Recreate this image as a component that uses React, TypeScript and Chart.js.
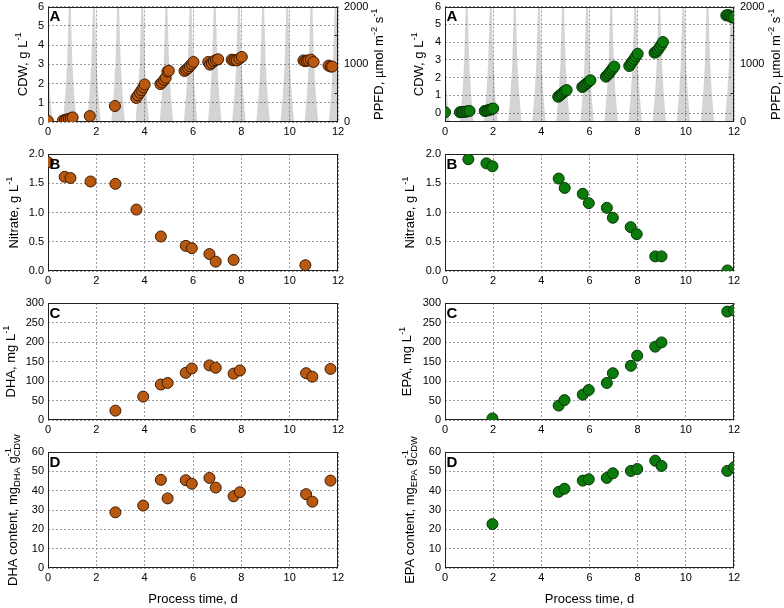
import React, { useEffect, useRef } from 'react';
import { Chart, registerables } from 'chart.js';

Chart.register(...registerables);

const W = 784;
const H = 608;
const FONT = 'Arial, "Liberation Sans", Helvetica, sans-serif';

// ---------------- Tick values ----------------
const dayTicks = [0, 2, 4, 6, 8, 10, 12];
const cdwTicks = [0, 1, 2, 3, 4, 5, 6];
const nitrateTicks = [0, 0.5, 1.0, 1.5, 2.0];
const titerTicks = [0, 50, 100, 150, 200, 250, 300];
const contentTicks = [0, 10, 20, 30, 40, 50, 60];
const ppfdTicks = [0, 1000, 2000];

// ---------------- Data: left column (DHA strain) ----------------
const dhaCdwDays = [0, 0.62, 0.7, 0.78, 0.86, 0.94, 1.02, 1.73, 2.77, 3.65, 3.72, 3.8, 3.87, 3.94, 4.0, 4.65, 4.72, 4.8, 4.87, 4.94, 5.0, 5.65, 5.72, 5.8, 5.87, 5.95, 6.02, 6.63, 6.7, 6.78, 6.86, 6.95, 7.04, 7.6, 7.67, 7.74, 7.81, 7.92, 8.02, 10.57, 10.64, 10.71, 10.78, 10.88, 10.99, 11.61, 11.7, 11.76];
const dhaCdw = [0.05, 0.08, 0.1, 0.13, 0.16, 0.19, 0.24, 0.31, 0.83, 1.25, 1.38, 1.52, 1.65, 1.8, 1.95, 1.97, 2.05, 2.18, 2.3, 2.62, 2.66, 2.65, 2.72, 2.8, 2.9, 3.0, 3.12, 3.12, 2.98, 3.06, 3.16, 3.22, 3.26, 3.24, 3.2, 3.22, 3.2, 3.29, 3.38, 3.2, 3.16, 3.18, 3.2, 3.24, 3.12, 2.93, 2.88, 2.88];

const dhaNitrateDays = [0, 0.69, 0.93, 1.76, 2.79, 3.66, 4.67, 5.7, 5.95, 6.68, 6.94, 7.68, 10.65];
const dhaNitrate = [1.86, 1.61, 1.59, 1.53, 1.49, 1.05, 0.59, 0.43, 0.39, 0.29, 0.16, 0.19, 0.1];

const dhaDays = [2.79, 3.94, 4.67, 4.95, 5.7, 5.95, 6.68, 6.94, 7.68, 7.94, 10.68, 10.94, 11.69];
const dhaTiter = [24, 60, 91, 95, 121, 132, 140, 134, 119, 127, 120, 111, 131];
const dhaContent = [28.8, 32.3, 45.6, 36.0, 45.4, 43.6, 46.6, 41.6, 37.1, 39.2, 38.2, 34.3, 45.2];

// ---------------- Data: right column (EPA strain) ----------------
const epaCdwDays = [0, 0.62, 0.7, 0.78, 0.86, 0.94, 1.02, 1.65, 1.72, 1.79, 1.86, 1.93, 2.0, 4.7, 4.77, 4.84, 4.91, 4.98, 5.05, 5.7, 5.77, 5.84, 5.91, 5.98, 6.04, 6.68, 6.75, 6.82, 6.89, 6.96, 7.03, 7.65, 7.72, 7.79, 7.86, 7.93, 8.0, 8.7, 8.77, 8.84, 8.91, 8.98, 9.05, 11.68, 11.76, 11.84, 11.92, 12.0];
const epaCdw = [0.05, 0.05, 0.06, 0.07, 0.08, 0.1, 0.12, 0.12, 0.14, 0.16, 0.19, 0.22, 0.26, 0.92, 1.0, 1.08, 1.16, 1.24, 1.3, 1.47, 1.54, 1.62, 1.7, 1.78, 1.85, 2.05, 2.14, 2.25, 2.38, 2.5, 2.62, 2.65, 2.78, 2.92, 3.05, 3.2, 3.34, 3.4, 3.45, 3.56, 3.7, 3.84, 4.0, 5.5, 5.52, 5.45, 5.38, 5.4];

const epaNitrateDays = [0.97, 1.72, 1.97, 4.72, 4.97, 5.72, 5.97, 6.72, 6.97, 7.71, 7.96, 8.73, 8.99, 11.73];
const epaNitrate = [1.91, 1.84, 1.79, 1.58, 1.42, 1.32, 1.16, 1.08, 0.91, 0.75, 0.63, 0.25, 0.25, 0.01];

const epaDays = [1.97, 4.72, 4.96, 5.72, 5.97, 6.72, 6.97, 7.72, 7.98, 8.73, 8.99, 11.72, 12.0];
const epaTiter = [4, 37, 51, 65, 77, 95, 120, 139, 165, 188, 199, 278, 281];
const epaContent = [22.7, 39.4, 41.0, 45.2, 45.9, 46.6, 49.0, 50.2, 51.2, 55.5, 52.8, 50.2, 52.1];

// ---------------- Light (PPFD) daily cycle ----------------
const lightPeakDays = [-0.1, 0.9, 1.9, 2.9, 3.9, 4.9, 5.9, 6.9, 7.9, 8.9, 9.9, 10.9, 11.9];
const ppfdShapeOffsets = [-0.28, -0.18, -0.11, -0.04, 0.04, 0.11, 0.18, 0.28];
const ppfdShapeLevels = [0, 500, 1000, 2000, 2000, 1000, 500, 0];

const lightPoints: { x: number; y: number }[] = [];
lightPeakDays.forEach((d) => {
  ppfdShapeOffsets.forEach((o, i) => lightPoints.push({ x: d + o, y: ppfdShapeLevels[i] }));
});

// ---------------- Styling / layout ----------------
const BROWN = '#b9590f';
const BROWN_EDGE = '#3a1a04';
const GREEN = '#0a7a0a';
const GREEN_EDGE = '#053505';

const colL = [48, 445];
const colR = [338, 734];
const rowT = [6, 154, 303, 452];
const rowB = [122, 271, 420, 568];
const Y_AXIS_W = 44;
const Y2_AXIS_W = 40;
const X_AXIS_H = 20;

type Seg = { t: string; k?: 'sup' | 'sub'; s?: string };

interface Panel {
  col: number;
  row: number;
  letter: string;
  days: number[];
  vals: number[];
  color: string;
  edge: string;
  yMin: number;
  yMax: number;
  yTicks: number[];
  decimals: number;
  title: Seg[];
  titleX: number;
  light: boolean;
  ppfdX?: number;
}

const panels: Panel[] = [
  { col: 0, row: 0, letter: 'A', days: dhaCdwDays, vals: dhaCdw, color: BROWN, edge: BROWN_EDGE, yMin: 0, yMax: 6, yTicks: cdwTicks, decimals: 0, title: [{ t: 'CDW, g L' }, { t: '-1', k: 'sup' }], titleX: 22, light: true, ppfdX: 378 },
  { col: 0, row: 1, letter: 'B', days: dhaNitrateDays, vals: dhaNitrate, color: BROWN, edge: BROWN_EDGE, yMin: 0, yMax: 2, yTicks: nitrateTicks, decimals: 1, title: [{ t: 'Nitrate, g L' }, { t: '-1', k: 'sup' }], titleX: 13, light: false },
  { col: 0, row: 2, letter: 'C', days: dhaDays, vals: dhaTiter, color: BROWN, edge: BROWN_EDGE, yMin: 0, yMax: 300, yTicks: titerTicks, decimals: 0, title: [{ t: 'DHA, mg L' }, { t: '-1', k: 'sup' }], titleX: 10, light: false },
  { col: 0, row: 3, letter: 'D', days: dhaDays, vals: dhaContent, color: BROWN, edge: BROWN_EDGE, yMin: 0, yMax: 60, yTicks: contentTicks, decimals: 0, title: [{ t: 'DHA content, mg' }, { t: 'DHA', k: 'sub' }, { t: ' g' }, { t: 'CDW', k: 'sub', s: '-1' }], titleX: 12, light: false },
  { col: 1, row: 0, letter: 'A', days: epaCdwDays, vals: epaCdw, color: GREEN, edge: GREEN_EDGE, yMin: -0.5, yMax: 6, yTicks: cdwTicks, decimals: 0, title: [{ t: 'CDW, g L' }, { t: '-1', k: 'sup' }], titleX: 418, light: true, ppfdX: 775 },
  { col: 1, row: 1, letter: 'B', days: epaNitrateDays, vals: epaNitrate, color: GREEN, edge: GREEN_EDGE, yMin: 0, yMax: 2, yTicks: nitrateTicks, decimals: 1, title: [{ t: 'Nitrate, g L' }, { t: '-1', k: 'sup' }], titleX: 409, light: false },
  { col: 1, row: 2, letter: 'C', days: epaDays, vals: epaTiter, color: GREEN, edge: GREEN_EDGE, yMin: 0, yMax: 300, yTicks: titerTicks, decimals: 0, title: [{ t: 'EPA, mg L' }, { t: '-1', k: 'sup' }], titleX: 406, light: false },
  { col: 1, row: 3, letter: 'D', days: epaDays, vals: epaContent, color: GREEN, edge: GREEN_EDGE, yMin: 0, yMax: 60, yTicks: contentTicks, decimals: 0, title: [{ t: 'EPA content, mg' }, { t: 'EPA', k: 'sub' }, { t: ' g' }, { t: 'CDW', k: 'sub', s: '-1' }], titleX: 409, light: false },
];

function drawRich(ctx: CanvasRenderingContext2D, segs: Seg[], cx: number, cy: number, size: number, rotate: boolean) {
  const small = size * 0.72;
  const widths: number[] = [];
  let total = 0;
  ctx.save();
  for (const sg of segs) {
    let w: number;
    if (!sg.k) {
      ctx.font = `${size}px ${FONT}`;
      w = ctx.measureText(sg.t).width;
    } else {
      ctx.font = `${small}px ${FONT}`;
      w = ctx.measureText(sg.t).width;
      if (sg.s) w = Math.max(w, ctx.measureText(sg.s).width);
    }
    widths.push(w);
    total += w;
  }
  ctx.translate(cx, cy);
  if (rotate) ctx.rotate(-Math.PI / 2);
  ctx.textAlign = 'left';
  ctx.textBaseline = 'alphabetic';
  ctx.fillStyle = '#000';
  const base = size * 0.36;
  let x = -total / 2;
  segs.forEach((sg, i) => {
    if (!sg.k) {
      ctx.font = `${size}px ${FONT}`;
      ctx.fillText(sg.t, x, base);
    } else if (sg.k === 'sup') {
      ctx.font = `${small}px ${FONT}`;
      ctx.fillText(sg.t, x, base - size * 0.42);
    } else {
      ctx.font = `${small}px ${FONT}`;
      ctx.fillText(sg.t, x, base + size * 0.22);
      if (sg.s) ctx.fillText(sg.s, x, base - size * 0.45);
    }
    x += widths[i];
  });
  ctx.restore();
}

const fixedFit = (size: number) => (s: any) => {
  if (s.isHorizontal()) s.height = size;
  else s.width = size;
  s.paddingTop = 0;
  s.paddingBottom = 0;
  s.paddingLeft = 0;
  s.paddingRight = 0;
};

const setTicks = (vals: number[]) => (s: any) => {
  s.ticks = vals.map((v) => ({ value: v }));
};

function buildConfig(p: Panel): any {
  const L = colL[p.col];
  const R = colR[p.col];
  const T = rowT[p.row];
  const B = rowB[p.row];
  const tickFont = { family: FONT, size: 11 };
  const gridOpts = { color: '#9c9c9c', lineWidth: 1, drawTicks: false };
  const datasets: any[] = [
    {
      type: 'scatter',
      data: p.days.map((d, i) => ({ x: d, y: p.vals[i] })),
      backgroundColor: p.color,
      borderColor: p.edge,
      borderWidth: 1,
      pointRadius: 5.5,
      pointHoverRadius: 5.5,
      xAxisID: 'x',
      yAxisID: 'y',
      order: 0,
    },
  ];
  const scales: any = {
    x: {
      type: 'linear',
      position: 'bottom',
      min: 0,
      max: 12,
      ticks: { padding: 3, font: tickFont, color: '#000', maxRotation: 0, minRotation: 0, autoSkip: false, callback: (v: any) => String(v) },
      grid: gridOpts,
      border: { display: false, dash: [2, 2] },
      afterBuildTicks: setTicks(dayTicks),
      afterFit: fixedFit(X_AXIS_H),
    },
    y: {
      type: 'linear',
      position: 'left',
      min: p.yMin,
      max: p.yMax,
      ticks: {
        padding: 4,
        font: tickFont,
        color: '#000',
        autoSkip: false,
        callback: (v: any) => Number(v).toFixed(p.decimals),
      },
      grid: gridOpts,
      border: { display: false, dash: [2, 2] },
      afterBuildTicks: setTicks(p.yTicks),
      afterFit: fixedFit(Y_AXIS_W),
    },
  };
  let rightPad = W - R;
  if (p.light) {
    datasets.push({
      type: 'line',
      data: lightPoints,
      xAxisID: 'x',
      yAxisID: 'y2',
      fill: 'origin',
      backgroundColor: 'rgba(0,0,0,0.17)',
      borderColor: 'rgba(0,0,0,0)',
      borderWidth: 0,
      pointRadius: 0,
      tension: 0,
      order: 1,
    });
    scales.y2 = {
      type: 'linear',
      position: 'right',
      min: 0,
      max: 2000,
      ticks: { padding: 6, font: tickFont, color: '#000', autoSkip: false, callback: (v: any) => String(v) },
      grid: { display: false, drawTicks: false },
      border: { display: false },
      afterBuildTicks: setTicks(ppfdTicks),
      afterFit: fixedFit(Y2_AXIS_W),
    };
    rightPad = W - R - Y2_AXIS_W;
  }
  const decor = {
    id: 'decor' + p.col + p.row,
    beforeDatasetsDraw(chart: any) {
      const ctx = chart.ctx as CanvasRenderingContext2D;
      const a = chart.chartArea;
      ctx.save();
      ctx.strokeStyle = '#222';
      ctx.lineWidth = 1;
      const l = Math.round(a.left) + 0.5;
      const t = Math.round(a.top) + 0.5;
      const r = Math.round(a.right) - 0.5;
      const b = Math.round(a.bottom) - 0.5;
      ctx.strokeRect(l, t, r - l, b - t);
      if (p.light) {
        // small inward minor ticks on PPFD axis
        const y2 = chart.scales.y2;
        ctx.beginPath();
        [500, 1500].forEach((v) => {
          const yy = Math.round(y2.getPixelForValue(v)) + 0.5;
          ctx.moveTo(r, yy);
          ctx.lineTo(r - 3, yy);
        });
        ctx.stroke();
      }
      ctx.restore();
    },
    afterDraw(chart: any) {
      const ctx = chart.ctx as CanvasRenderingContext2D;
      const a = chart.chartArea;
      ctx.save();
      ctx.fillStyle = '#000';
      ctx.font = `bold 15px ${FONT}`;
      ctx.textAlign = 'left';
      ctx.textBaseline = 'alphabetic';
      ctx.fillText(p.letter, a.left + 1.5, a.top + 14.5);
      ctx.restore();
      drawRich(ctx, p.title, p.titleX, (a.top + a.bottom) / 2, 13, true);
      if (p.light && p.ppfdX) {
        drawRich(ctx, [{ t: 'PPFD, \u00b5mol m' }, { t: '-2', k: 'sup' }, { t: ' s' }, { t: '-1', k: 'sup' }], p.ppfdX, (a.top + a.bottom) / 2, 13, true);
      }
      if (p.row === 3) {
        drawRich(ctx, [{ t: 'Process time, d' }], (a.left + a.right) / 2, 598, 13, false);
      }
    },
  };
  return {
    type: 'scatter',
    data: { datasets },
    options: {
      animation: false,
      responsive: false,
      devicePixelRatio: 1,
      events: [],
      layout: { padding: { left: L - Y_AXIS_W, right: rightPad, top: T, bottom: H - B - X_AXIS_H } },
      plugins: { legend: { display: false }, tooltip: { enabled: false }, title: { display: false } },
      scales,
    },
    plugins: [decor],
  };
}

function PanelChart({ p }: { p: Panel }) {
  const ref = useRef<HTMLCanvasElement>(null);
  useEffect(() => {
    if (!ref.current) return;
    const chart = new Chart(ref.current, buildConfig(p));
    return () => chart.destroy();
  }, [p]);
  return (
    <canvas
      ref={ref}
      width={W}
      height={H}
      style={{ position: 'absolute', left: 0, top: 0, width: W, height: H }}
    />
  );
}

export default function App() {
  return (
    <div style={{ position: 'absolute', left: 0, top: 0, width: W, height: H, background: '#fff', overflow: 'hidden' }}>
      {panels.map((p, i) => (
        <PanelChart key={i} p={p} />
      ))}
    </div>
  );
}
